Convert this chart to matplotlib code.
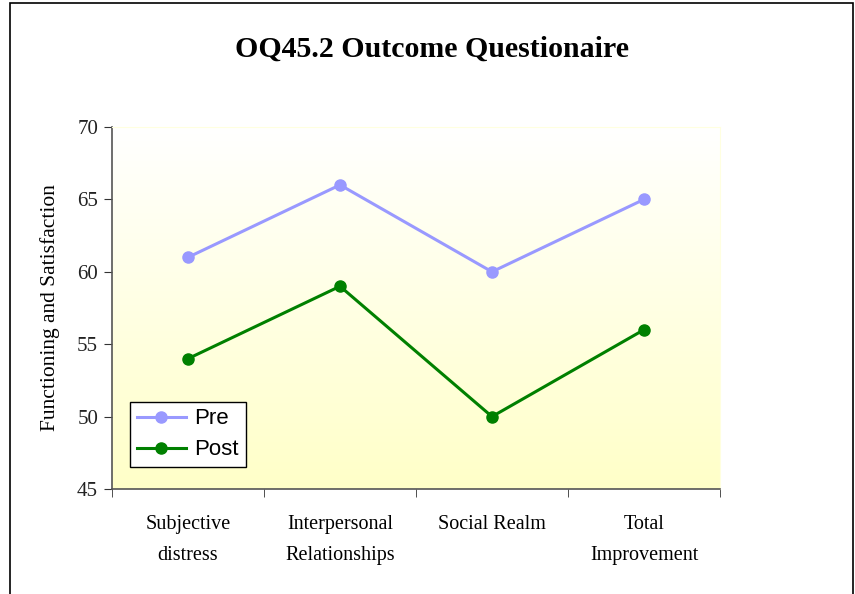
import matplotlib
matplotlib.use('Agg')
import matplotlib.pyplot as plt
import numpy as np
from matplotlib.colors import LinearSegmentedColormap
from matplotlib.patches import Rectangle

categories = ["Subjective\ndistress", "Interpersonal\nRelationships", "Social Realm", "Total\nImprovement"]
pre_values = [61, 66, 60, 65]
post_values = [54, 59, 50, 56]

serif = ['Liberation Serif', 'DejaVu Serif']

fig = plt.figure(figsize=(8.55, 5.94), dpi=100)
W, H = 855, 594
ax = fig.add_axes([112 / W, 1 - 489 / H, (720 - 112) / W, (489 - 127) / H])

# outer chart frame (bottom runs off the picture)
fig.patches.append(Rectangle((10 / W, -0.05), (853 - 10) / W, (1 - 3 / H) + 0.05,
                             transform=fig.transFigure, fill=False, edgecolor='black', lw=1.2))

# white-to-yellow gradient in the plot area
cmap = LinearSegmentedColormap.from_list('bg', ['#FFFFC8', '#FFFFFF'])
grad = np.linspace(0, 1, 256).reshape(-1, 1)
ax.imshow(grad, cmap=cmap, aspect='auto', extent=[0, 1, 0, 1], transform=ax.transAxes,
          origin='lower', zorder=0)

x = np.arange(len(categories))
ax.plot(x, pre_values, color='#9999FF', lw=2.2, marker='o', ms=8, label='Pre', zorder=3)
ax.plot(x, post_values, color='#008000', lw=2.2, marker='o', ms=8, label='Post', zorder=3)

ax.set_xlim(-0.5, len(categories) - 0.5)
ax.set_ylim(45, 70)
ax.set_yticks([45, 50, 55, 60, 65, 70])
ax.set_xticks(x)
ax.set_xticklabels(categories, fontfamily=serif, fontsize=14.5, linespacing=1.85)
ax.set_xticks(np.arange(len(categories) + 1) - 0.5, minor=True)
ax.tick_params(axis='x', which='major', length=0, pad=19)
ax.tick_params(axis='x', which='minor', length=6, direction='out', color='#333333')
ax.tick_params(axis='y', length=6, direction='out', color='#333333', pad=4)
for lab in ax.get_yticklabels():
    lab.set_fontfamily(serif)
    lab.set_fontsize(15)
    lab.set_color('#222222')

for side in ['top', 'right']:
    ax.spines[side].set_color('#FFFFE0')
for side in ['left', 'bottom']:
    ax.spines[side].set_color('#555555')
    ax.spines[side].set_linewidth(1.2)

ax.set_ylabel('Functioning and Satisfaction', fontfamily=serif, fontsize=15.5, labelpad=12)

fig.text((10 + 853) / 2 / W, 1 - 49 / H, 'OQ45.2 Outcome Questionaire', ha='center', va='center',
         fontfamily=serif, fontsize=21.5, fontweight='bold')

leg = ax.legend(loc='lower left', bbox_to_anchor=(18 / 608, 22 / 362), fancybox=False,
                edgecolor='black', framealpha=1, prop={'family': 'Liberation Sans', 'size': 16},
                handlelength=2.2, borderpad=0.3, labelspacing=0.45, handletextpad=0.4,
                borderaxespad=0)
leg.get_frame().set_linewidth(1.0)

plt.savefig('out.png', dpi=100)
